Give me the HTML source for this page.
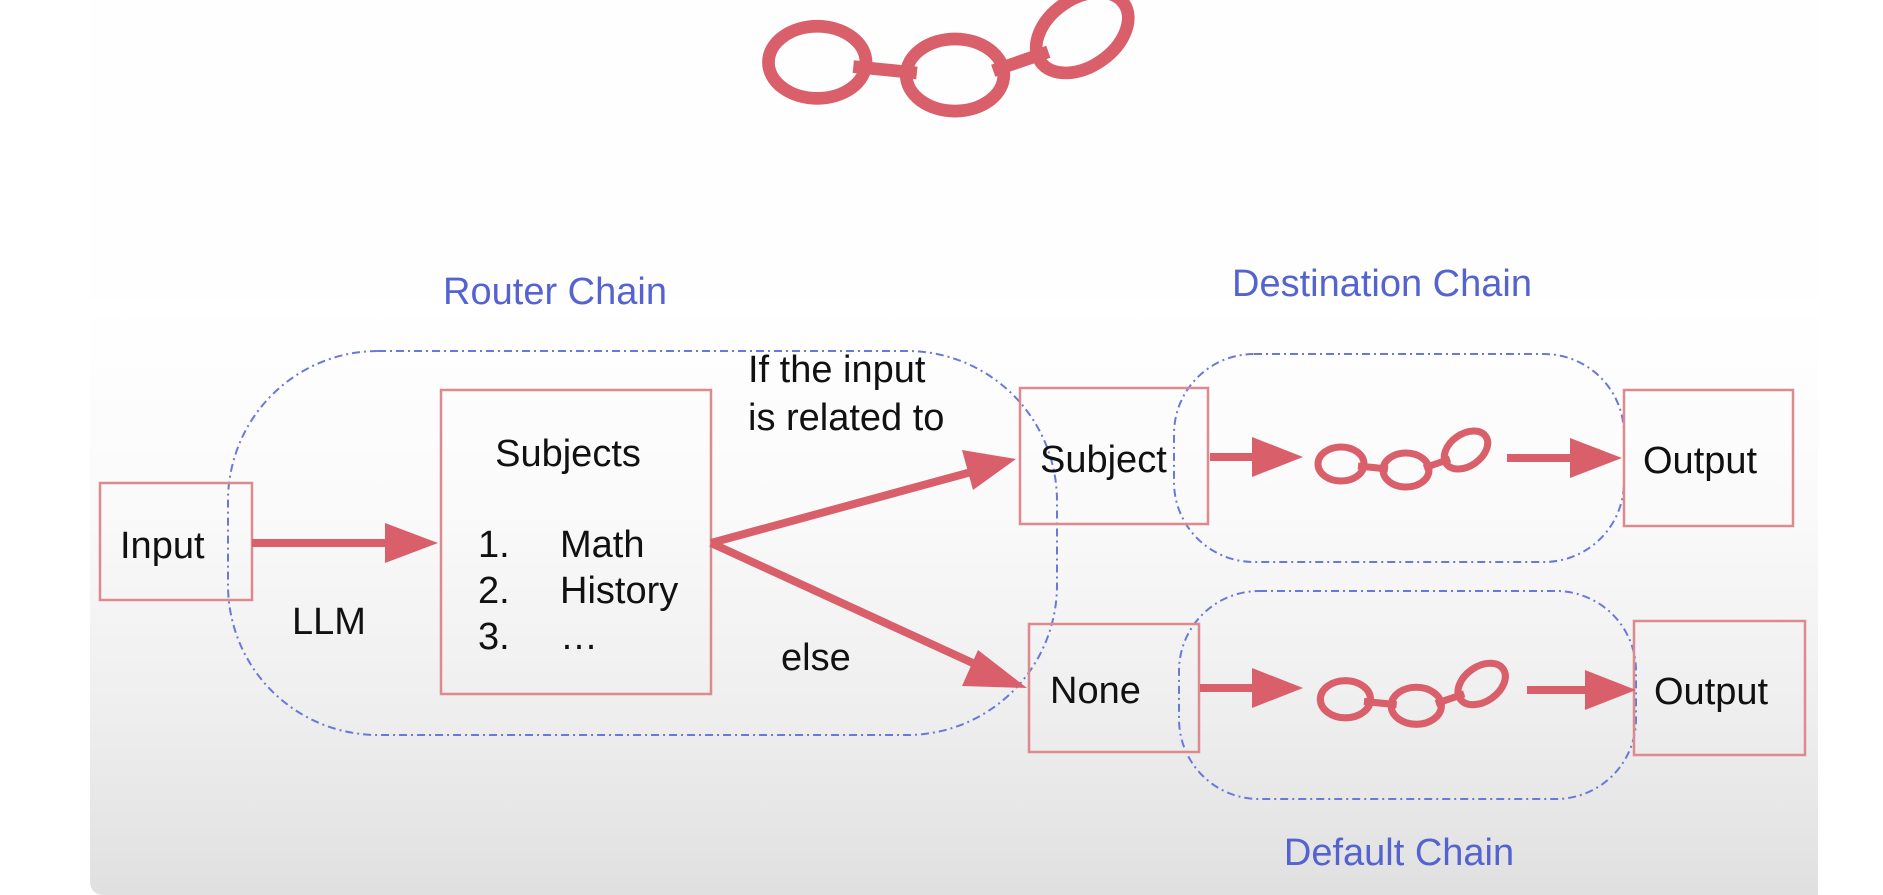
<!DOCTYPE html>
<html><head><meta charset="utf-8"><style>
html,body{margin:0;padding:0;background:#fff;}
svg{display:block;}
text{font-family:"Liberation Sans",Arial,sans-serif;}
</style></head><body>
<svg width="1883" height="895" viewBox="0 0 1883 895" xmlns="http://www.w3.org/2000/svg">
<defs>
<linearGradient id="bg" x1="0" y1="0" x2="0" y2="1">
<stop offset="0" stop-color="#ffffff"/>
<stop offset="0.35" stop-color="#fafafa"/>
<stop offset="0.7" stop-color="#eeeeee"/>
<stop offset="1" stop-color="#e0e0e0"/>
</linearGradient>
<g id="chainShape">
<ellipse cx="27" cy="36" rx="23" ry="17"/>
<line x1="44" y1="38" x2="74" y2="41"/>
<ellipse cx="92" cy="42" rx="23" ry="17"/>
<line x1="110" y1="40" x2="136" y2="31"/>
<ellipse cx="152" cy="22" rx="24" ry="16" transform="rotate(-35 152 22)"/>
</g>
</defs>
<rect x="0" y="0" width="1883" height="895" fill="#fff"/>
<path d="M90 300 H1818 V895 H104 Q90 895 90 880 Z" fill="url(#bg)"/>
<rect x="90" y="0" width="1728" height="300" fill="#fefefe"/>

<!-- big chain -->
<g transform="translate(760,-14) scale(2.12)" fill="none" stroke="#d9606a" stroke-width="6"><use href="#chainShape"/></g>

<!-- labels -->
<g fill="#5563d0" font-size="38">
<text x="555" y="304" text-anchor="middle">Router Chain</text>
<text x="1382" y="296" text-anchor="middle">Destination Chain</text>
<text x="1399" y="865" text-anchor="middle">Default Chain</text>
</g>

<!-- dashed group outlines -->
<g fill="none" stroke="#6a78d8" stroke-width="2" stroke-dasharray="8,4,2,4">
<rect x="228" y="351" width="829" height="384" rx="150"/>
<rect x="1174" y="354" width="450" height="208" rx="80"/>
<rect x="1179" y="591" width="457" height="208" rx="80"/>
</g>

<!-- boxes -->
<g fill="none" stroke="#dc8a8e" stroke-width="2.5">
<rect x="100" y="483" width="152" height="117"/>
<rect x="441" y="390" width="270" height="304"/>
<rect x="1020" y="388" width="188" height="136"/>
<rect x="1029" y="624" width="170" height="128"/>
<rect x="1624" y="390" width="169" height="136"/>
<rect x="1634" y="621" width="171" height="134"/>
</g>

<!-- arrows -->
<g stroke="#d9606a" stroke-width="8" fill="#d9606a">
<line x1="252" y1="543" x2="395" y2="543"/>
<polygon points="385,523 438,543 385,563" stroke="none"/>
<line x1="711" y1="543" x2="975" y2="471"/>
<polygon points="962,450 1016,459 973,490" stroke="none"/>
<line x1="711" y1="543" x2="988" y2="670"/>
<polygon points="978,650 1027,688 962,686" stroke="none"/>
<line x1="1210" y1="457" x2="1262" y2="457"/>
<polygon points="1252,437 1303,457 1252,477" stroke="none"/>
<line x1="1507" y1="458" x2="1580" y2="458"/>
<polygon points="1570,438 1622,458 1570,478" stroke="none"/>
<line x1="1200" y1="688" x2="1262" y2="688"/>
<polygon points="1252,668 1303,688 1252,708" stroke="none"/>
<line x1="1527" y1="690" x2="1595" y2="690"/>
<polygon points="1585,670 1636,690 1585,710" stroke="none"/>
</g>

<!-- small chains -->
<g transform="translate(1314,428)" fill="none" stroke="#d9606a" stroke-width="7"><use href="#chainShape"/></g>
<g transform="translate(1316,660) scale(1.09)" fill="none" stroke="#d9606a" stroke-width="6.5"><use href="#chainShape"/></g>

<!-- text -->
<g fill="#111" font-size="38">
<text x="120" y="558">Input</text>
<text x="568" y="466" text-anchor="middle">Subjects</text>
<text x="478" y="557">1.</text><text x="560" y="557">Math</text>
<text x="478" y="603">2.</text><text x="560" y="603">History</text>
<text x="478" y="649">3.</text><text x="560" y="649">…</text>
<text x="292" y="634">LLM</text>
<text x="748" y="382">If the input</text>
<text x="748" y="430">is related to</text>
<text x="781" y="670">else</text>
<text x="1040" y="472">Subject</text>
<text x="1643" y="473">Output</text>
<text x="1050" y="703">None</text>
<text x="1654" y="704">Output</text>
</g>
</svg>
</body></html>
